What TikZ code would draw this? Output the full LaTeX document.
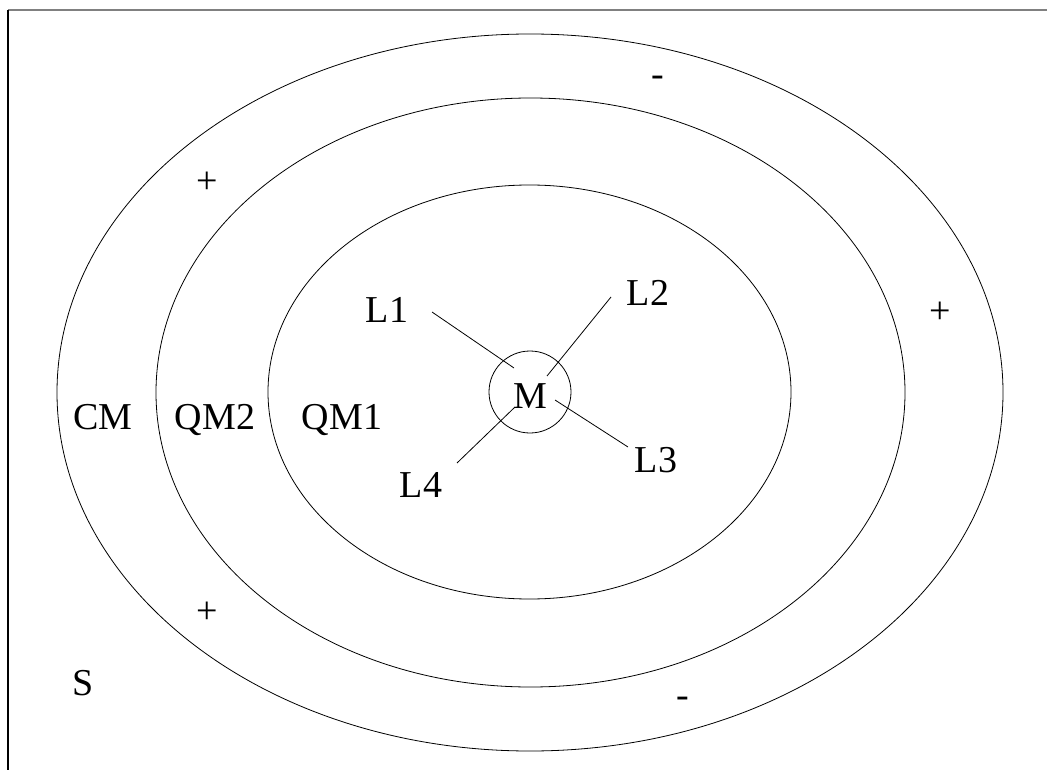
\documentclass[tikz,border=0pt]{standalone}
\usepackage{fontspec}
\setmainfont{Liberation Serif}
\begin{document}
\begin{tikzpicture}[x=1pt,y=-1pt,
  ring/.style={draw=black,line width=0.8pt},
  lbl/.style={inner sep=0pt,anchor=base,font=\fontsize{38}{44}\selectfont},
  sgn/.style={inner sep=0pt,anchor=center,font=\fontsize{38}{44}\selectfont},
  link/.style={draw=black,line width=0.8pt}]
\useasboundingbox (0,0) rectangle (1047,770);
% frame
\draw[gray,line width=2pt] (8,10) -- (1047,10);
\draw[black,line width=1.5pt] (8,10) -- (8,770);
% rings
\draw[ring] (530,392.5) ellipse [x radius=473, y radius=358.5];
\draw[ring] (530.5,392.5) ellipse [x radius=374.5, y radius=294.5];
\draw[ring] (529.5,392) ellipse [x radius=261.5, y radius=207];
% metal
\node[draw=black,line width=0.8pt,circle,minimum size=82pt,inner sep=0pt] (Mc) at (530,392) {};
\node[lbl] (M) at (530,408) {M};
% ligand labels
\node[lbl] (L1) at (387,322) {L1};
\node[lbl] (L2) at (648,305) {L2};
\node[lbl] (L3) at (656,472) {L3};
\node[lbl] (L4) at (421,497) {L4};
% region labels
\node[lbl] (CM) at (103,429) {CM};
\node[lbl] (QM2) at (215,429) {QM2};
\node[lbl] (QM1) at (342,429) {QM1};
\node[lbl] (S) at (83,695) {S};
% signs
\node[sgn] (m1) at (658,81) {-};
\node[sgn] (p1) at (207,183) {+};
\node[sgn] (p2) at (940,313) {+};
\node[sgn] (p3) at (207,613) {+};
\node[sgn] (m2) at (683,702) {-};
% connector ends
\coordinate (a1) at (432,312); \coordinate (b1) at (514,368);
\coordinate (a2) at (611,297); \coordinate (b2) at (547,376);
\coordinate (a3) at (628,447); \coordinate (b3) at (555,400);
\coordinate (a4) at (457,463); \coordinate (b4) at (515,407);
\draw[link] (a1) -- (b1);
\draw[link] (a2) -- (b2);
\draw[link] (a3) -- (b3);
\draw[link] (a4) -- (b4);
\end{tikzpicture}
\end{document}
